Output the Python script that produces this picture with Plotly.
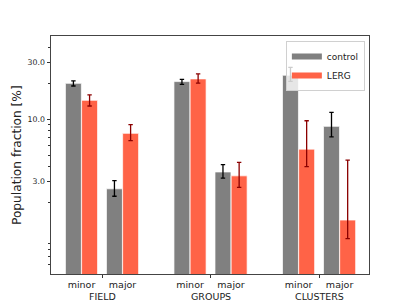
import numpy as np
import plotly.graph_objects as go

# ---- data ----
groups = ["FIELD", "GROUPS", "CLUSTERS"]
subcats = ["minor", "major"]
series = ["control", "LERG"]

control_vals = [20.0, 2.6, 20.7, 3.6, 23.4, 8.7]
control_err_hi = [1.0, 0.45, 0.9, 0.55, 3.8, 2.7]
control_err_lo = [1.0, 0.35, 1.1, 0.4, 2.6, 1.6]

lerg_vals = [14.4, 7.6, 21.8, 3.34, 5.6, 1.42]
lerg_err_hi = [1.6, 1.4, 2.2, 1.0, 4.1, 3.1]
lerg_err_lo = [1.5, 1.0, 1.7, 0.67, 1.6, 0.43]

ytick_vals = [3, 10, 30]
ytick_text = ["3.0", "10.0", "30.0"]

# ---- layout constants ----
sub_off = 0.189
bar_off = 0.0745
bar_w = 0.147

gx = np.arange(len(groups), dtype=float)
sub_x = np.concatenate([[g - sub_off, g + sub_off] for g in gx])

FONT = "DejaVu Sans"
colors = {"control": "#808080", "LERG": "#FF6347"}
ecolors = {"control": "#000000", "LERG": "#8B0000"}

fig = go.Figure()
for name, vals, hi, lo, sgn in [
    ("control", control_vals, control_err_hi, control_err_lo, -1),
    ("LERG", lerg_vals, lerg_err_hi, lerg_err_lo, 1),
]:
    fig.add_trace(go.Bar(
        x=sub_x + sgn * bar_off, y=vals, width=bar_w,
        marker=dict(color=colors[name], line=dict(color="rgba(255,255,255,0.7)", width=1)),
        error_y=dict(type="data", array=hi, arrayminus=lo, symmetric=False,
                     color=ecolors[name], thickness=1.3, width=2.2),
        showlegend=False, name=name,
    ))
    # legend proxy
    fig.add_trace(go.Scatter(
        x=[None], y=[None], mode="lines", name=name,
        line=dict(color=colors[name], width=6),
    ))

fig.update_layout(
    width=411, height=308,
    margin=dict(l=51, r=42, t=36, b=34),
    paper_bgcolor="white", plot_bgcolor="white",
    barmode="overlay",
    font=dict(family=FONT, size=10, color="#222"),
    legend=dict(x=0.987, y=0.979, xanchor="right", yanchor="top",
                bordercolor="#d0d0d0", borderwidth=1, bgcolor="rgba(255,255,255,0.8)",
                font=dict(size=9), itemwidth=30, tracegroupgap=0),
)

fig.update_xaxes(
    range=[-0.47, 2.46], automargin=False,
    tickmode="array", tickvals=list(sub_x), ticktext=subcats * len(groups),
    ticks="", showgrid=False, zeroline=False, ticklabelstandoff=2,
    showline=True, linecolor="#444", linewidth=1, mirror=True,
    tickfont=dict(size=9.5),
    minor=dict(tickmode="array", tickvals=list(gx), ticks="outside", ticklen=3,
               tickcolor="#333", showgrid=False),
)
minor_y = [0.6, 0.7, 0.8, 0.9, 2, 4, 5, 6, 7, 8, 9, 20, 40]
fig.update_yaxes(
    type="log", range=[np.log10(0.5), np.log10(50)], automargin=False,
    tickmode="array", tickvals=ytick_vals, ticktext=ytick_text,
    ticks="outside", ticklen=3.5, tickcolor="#333",
    showgrid=False, zeroline=False,
    showline=True, linecolor="#444", linewidth=1, mirror=True,
    tickfont=dict(size=7.8),
    minor=dict(tickmode="array", tickvals=minor_y, ticks="outside", ticklen=2,
               tickcolor="#333", showgrid=False),
)

# y-axis title
fig.add_annotation(x=0, y=0.5, xref="paper", yref="paper",
                   text="Population fraction [%]", textangle=-90,
                   showarrow=False, xanchor="center", yanchor="middle", xshift=-34,
                   font=dict(size=12.2, family=FONT, color="#222"))

for g, name in zip(gx, groups):
    fig.add_annotation(x=g, y=0, xref="x", yref="paper", text=name,
                       showarrow=False, yanchor="top", yshift=-15,
                       font=dict(size=9.5, family=FONT, color="#222"))

fig.write_html("out.html", config={"displayModeBar": False},
               post_script="document.body.style.margin='0';")
